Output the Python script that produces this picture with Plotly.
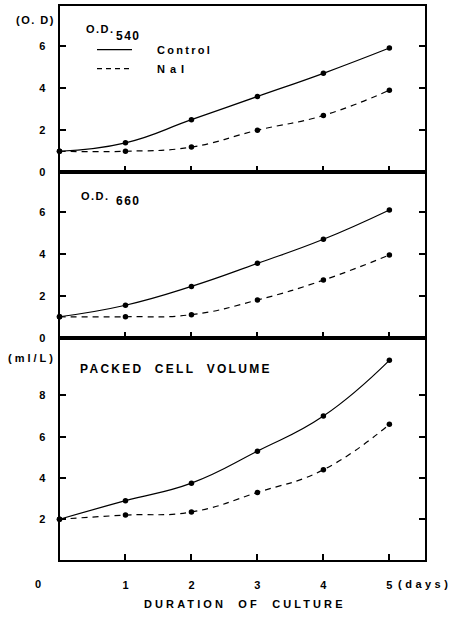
import json
import plotly.graph_objects as go

# Culture growth over 5 days: control vs NaI
days = [0, 1, 2, 3, 4, 5]
od540_control = [1.0, 1.4, 2.5, 3.6, 4.7, 5.9]
od540_nai = [1.0, 1.0, 1.2, 2.0, 2.7, 3.9]
od660_control = [1.0, 1.55, 2.45, 3.55, 4.7, 6.1]
od660_nai = [1.0, 1.0, 1.1, 1.8, 2.75, 3.95]
pcv_control = [2.0, 2.9, 3.75, 5.3, 7.0, 9.7]
pcv_nai = [2.0, 2.2, 2.35, 3.3, 4.4, 6.6]

x_ticks = [1, 2, 3, 4, 5]
x_tick_labels = ["1", "2", "3", "4", "5"]
od_ticks = [0, 2, 4, 6]
od_tick_labels = ["0", "2", "4", "6"]
pcv_ticks = [2, 4, 6, 8]
pcv_tick_labels = ["2", "4", "6", "8"]

W, H = 455, 617
FONT = "Liberation Sans"


def px(x):
    return x / W


def py(y):
    return 1 - y / H


left, right = 59.5, 425
top, b1, b2, b3 = 6, 174, 341, 566
x_range = [0, 5.54]

fig = go.Figure()

panels = [
    ("x", "y", od540_control, od540_nai),
    ("x2", "y2", od660_control, od660_nai),
    ("x3", "y3", pcv_control, pcv_nai),
]
for xa, ya, ctrl, nai in panels:
    fig.add_trace(go.Scatter(
        x=days, y=ctrl, xaxis=xa, yaxis=ya, mode="lines+markers",
        line=dict(color="black", width=1.2, shape="spline", smoothing=1.3),
        marker=dict(color="black", size=5.5), showlegend=False,
        cliponaxis=False))
    fig.add_trace(go.Scatter(
        x=days, y=nai, xaxis=xa, yaxis=ya, mode="lines+markers",
        line=dict(color="black", width=1.2, shape="spline", smoothing=1.3,
                  dash="6px,5px"),
        marker=dict(color="black", size=5.5), showlegend=False,
        cliponaxis=False))

# legend keys
fig.add_trace(go.Scatter(x=[None], y=[None], xaxis="x", yaxis="y", mode="lines",
                         name="Control", line=dict(color="black", width=1.2)))
fig.add_trace(go.Scatter(x=[None], y=[None], xaxis="x", yaxis="y", mode="lines",
                         name="NaI", line=dict(color="black", width=1.2, dash="5px,4px")))

tick_font = dict(family=FONT, size=11, color="black", weight="bold")

x_common = dict(
    domain=[px(left), px(right)], range=x_range, tickvals=x_ticks,
    ticktext=x_tick_labels, ticks="inside", ticklen=6, tickwidth=1.5,
    tickcolor="black", showline=True, linewidth=2, linecolor="black",
    mirror=True, showgrid=False, zeroline=False, tickfont=tick_font,
    ticklabelstandoff=13,
)
y_common = dict(
    ticks="inside", ticklen=6, tickwidth=1.5, tickcolor="black",
    showline=True, linewidth=2, linecolor="black", mirror="ticks",
    showgrid=False, zeroline=False, tickfont=tick_font, ticklabelstandoff=10,
)

fig.update_layout(
    width=W, height=H, margin=dict(l=0, r=0, t=0, b=0),
    paper_bgcolor="white", plot_bgcolor="white",
    xaxis=dict(**x_common, anchor="y", showticklabels=False),
    xaxis2=dict(**x_common, anchor="y2", showticklabels=False),
    xaxis3=dict(**x_common, anchor="y3", showticklabels=True),
    yaxis=dict(**y_common, domain=[py(b1), py(top)], range=[0, 7.9],
               tickvals=od_ticks, ticktext=od_tick_labels, anchor="x"),
    yaxis2=dict(**y_common, domain=[py(b2), py(b1)], range=[0, 7.9],
                tickvals=od_ticks, ticktext=od_tick_labels, anchor="x2"),
    yaxis3=dict(**y_common, domain=[py(b3), py(b2)], range=[0, 10.8],
                tickvals=pcv_ticks, ticktext=pcv_tick_labels, anchor="x3"),
    legend=dict(x=px(92), y=py(35.5), xanchor="left", yanchor="top",
                bgcolor="rgba(0,0,0,0)", itemwidth=35,
                font=dict(family=FONT, size=11, color="black", weight="bold")),
)

# text labels: (text, left x px, center y px, size, letter spacing)
labels = [
    ("(O. D)", 15, 20.5, 11, 1.5),
    ("O.D.", 85, 29.5, 11, 1.5),
    ("540", 115, 36, 12, 1.5),
    ("O.D.", 80, 197.5, 11, 1.5),
    ("660", 115, 203, 12, 1.5),
    ("(ml/L)", 7, 362, 11, 3.0),
    ("PACKED\u00a0 CELL\u00a0 VOLUME", 79, 372.5, 12, 2.3),
    ("0", 34, 589.5, 11, 0),
    ("(days)", 397, 590, 11, 3.5),
    ("DURATION\u00a0 OF\u00a0 CULTURE", 143, 610, 11, 3.1),
]
spacing = []
for text, lx, cy, size, ls in labels:
    fig.add_annotation(
        text=text, x=px(lx), y=py(cy), xref="paper", yref="paper",
        xanchor="left", yanchor="middle", align="left", showarrow=False,
        font=dict(family=FONT, size=size, color="black", weight="bold"),
        borderpad=0)
    spacing.append(ls)

post = (
    "var s=%s;"
    "document.querySelectorAll('g.annotation').forEach(function(g){"
    "var i=+g.getAttribute('data-index');var t=g.querySelector('text');"
    "if(t&&s[i])t.style.letterSpacing=s[i]+'px';});"
    "document.querySelectorAll('.legend [clip-path]').forEach(function(e){"
    "e.removeAttribute('clip-path');});"
    "document.querySelectorAll('text.legendtext').forEach(function(t){"
    "t.style.letterSpacing=(t.textContent==='NaI'?'5px':'2.3px');"
    "t.setAttribute('x',(+t.getAttribute('x')||0)+20);});"
) % json.dumps(spacing)

fig.write_html("out.html", post_script=post)
